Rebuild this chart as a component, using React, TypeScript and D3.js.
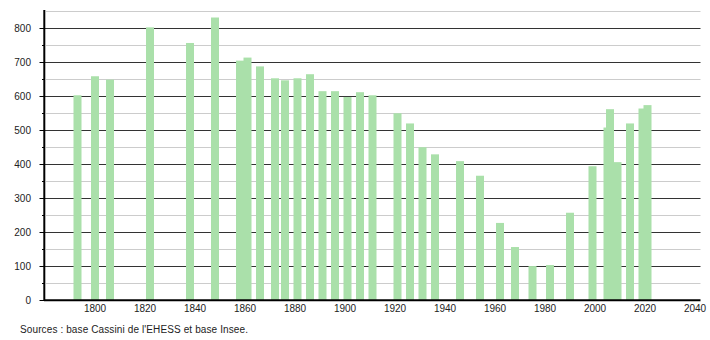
import React from "react";
import * as d3 from "d3";

const years = [
  1793, 1800, 1806, 1822, 1838, 1848, 1858, 1861, 1866, 1872, 1876, 1881, 1886,
  1891, 1896, 1901, 1906, 1911, 1921, 1926, 1931, 1936, 1946, 1954, 1962, 1968,
  1975, 1982, 1990, 1999, 2005, 2006, 2009, 2014, 2019, 2021,
];
const population = [
  603, 659, 649, 803, 757, 832, 705, 714, 688, 653, 647, 653, 665,
  615, 615, 598, 612, 603, 550, 520, 450, 429, 409, 366, 227, 156,
  100, 103, 257, 394, 508, 562, 406, 520, 564, 574,
];
const yMajorTicks = [0, 100, 200, 300, 400, 500, 600, 700, 800];
const yMinorTicks = [50, 150, 250, 350, 450, 550, 650, 750, 850];
const xTicks = [1800, 1820, 1840, 1860, 1880, 1900, 1920, 1940, 1960, 1980, 2000, 2020, 2040];
const sourceText = "Sources : base Cassini de l'EHESS et base Insee.";

const W = 710;
const H = 340;
const left = 44;
const right = 700.5;
const bottom = 300;
const top = 10;

export default function App() {
  const x = d3.scaleLinear().domain([1780, 2042]).range([45, 700]);
  const y = d3.scaleLinear().domain([0, 850]).range([bottom, 11.4]);
  const barW = 8;
  const font = "'Liberation Sans', Arial, sans-serif";

  return (
    <svg
      width={W}
      height={H}
      style={{ position: "absolute", left: 0, top: 0, background: "#fff" }}
    >
      {yMinorTicks.map((t) => (
        <line key={"mg" + t} x1={left + 2} x2={right} y1={Math.round(y(t)) + 0.5} y2={Math.round(y(t)) + 0.5} stroke="#cccccc" strokeWidth={1} />
      ))}
      {yMajorTicks.filter((t) => t > 0).map((t) => (
        <line key={"g" + t} x1={left} x2={right} y1={Math.round(y(t)) + 0.5} y2={Math.round(y(t)) + 0.5} stroke="#333333" strokeWidth={1} />
      ))}
      {years.map((yr, i) => (
        <rect
          key={yr}
          x={x(yr) - barW / 2}
          y={y(population[i])}
          width={barW}
          height={bottom - y(population[i])}
          fill="#aae0aa"
        />
      ))}
      {/* y axis */}
      <line x1={left + 0.3} x2={left + 0.3} y1={top} y2={bottom + 1} stroke="#000" strokeWidth={2} />
      {yMajorTicks.map((t) => (
        <line key={"t" + t} x1={39.5} x2={left} y1={Math.round(y(t)) + 0.5} y2={Math.round(y(t)) + 0.5} stroke="#000" strokeWidth={1} />
      ))}
      {yMinorTicks.filter((t) => t < 850).map((t) => (
        <line key={"mt" + t} x1={42} x2={left} y1={Math.round(y(t)) + 0.5} y2={Math.round(y(t)) + 0.5} stroke="#000" strokeWidth={1} />
      ))}
      {yMajorTicks.map((t) => (
        <text key={"l" + t} x={31} y={y(t)} dy="0.35em" textAnchor="end" fontSize={10} fontFamily={font} fill="#222">
          {t}
        </text>
      ))}
      {/* x axis */}
      <line x1={left} x2={right} y1={bottom + 0.3} y2={bottom + 0.3} stroke="#000" strokeWidth={2} />
      {xTicks.map((t) => (
        <text key={"x" + t} x={x(t)} y={312} textAnchor="middle" fontSize={10} fontFamily={font} fill="#222">
          {t}
        </text>
      ))}
      <text x={20} y={333} fontSize={10} fontFamily={font} fill="#222" textLength={228} lengthAdjust="spacing">
        {sourceText}
      </text>
    </svg>
  );
}
